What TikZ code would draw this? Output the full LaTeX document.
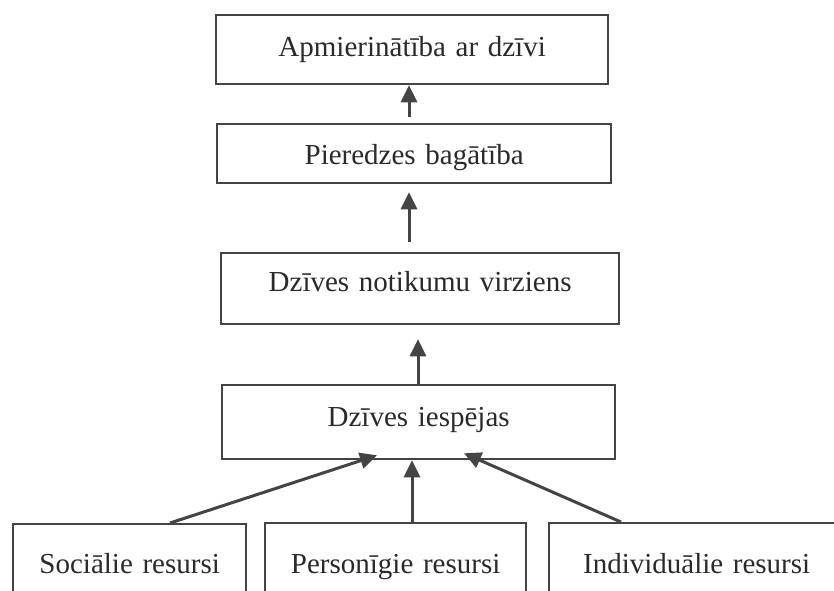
\documentclass[tikz,border=0pt]{standalone}
\usepackage{fontspec}
\setmainfont{Liberation Serif}
\usetikzlibrary{arrows.meta,calc}
\definecolor{ink}{HTML}{444444}
\definecolor{txt}{HTML}{2A2A2A}

\begin{document}
\begin{tikzpicture}[x=1pt, y=-1pt,
    box/.style={draw=ink, line width=2.3pt, inner sep=0pt, align=center, text=txt,
        anchor=north west, font=\fontsize{29}{34}\selectfont},
    arr/.style={draw=ink, line width=3pt, -{Triangle[length=17pt,width=16pt]}}]
    % page (bottom row is cut off)
    \clip (0,0) rectangle (834,590);
    \fill[white] (0,0) rectangle (834,590);

    % chain
    \node[box, text width=392pt, text height=41pt, text depth=28pt] (apm) at (215,14) {Apmierinātība ar dzīvi};
    \node[box, text width=394pt, text height=40pt, text depth=19pt] (pier) at (216,123) {Pieredzes bagātība};
    \node[box, text width=398pt, text height=38pt, text depth=33pt] (virz) at (220,252) {Dzīves notikumu virziens};
    \node[box, text width=393pt, text height=41pt, text depth=33pt] (iesp) at (221,384) {Dzīves iespējas};

    % resources
    \node[box, text width=233pt, text height=49pt, text depth=60pt] (soc) at (12,523) {Sociālie resursi};
    \node[box, text width=261pt, text height=50pt, text depth=60pt] (pers) at (264,522) {Personīgie resursi};
    \node[box, text width=295pt, text height=50pt, text depth=60pt] (indiv) at (548,522) {Individuālie resursi};

    % arrows
    \draw[arr, shorten <=6pt] (pier.north -| 409,0) -- (apm.south -| 409,0);
    \draw[arr, shorten <=10pt, shorten >=8pt] (virz.north -| 409,0) -- (pier.south -| 409,0);
    \draw[arr, shorten >=14pt] (iesp.north -| 418,0) -- (virz.south -| 418,0);
    \draw[arr] (soc.north -| 170,0) -- ($(iesp.south -| 377,0)+(0,-5)$);
    \draw[arr] (pers.north -| 412,0) -- (iesp.south -| 412,0);
    \draw[arr] (indiv.north -| 621,0) -- ($(iesp.south -| 464,0)+(0,-7)$);
\end{tikzpicture}
\end{document}
